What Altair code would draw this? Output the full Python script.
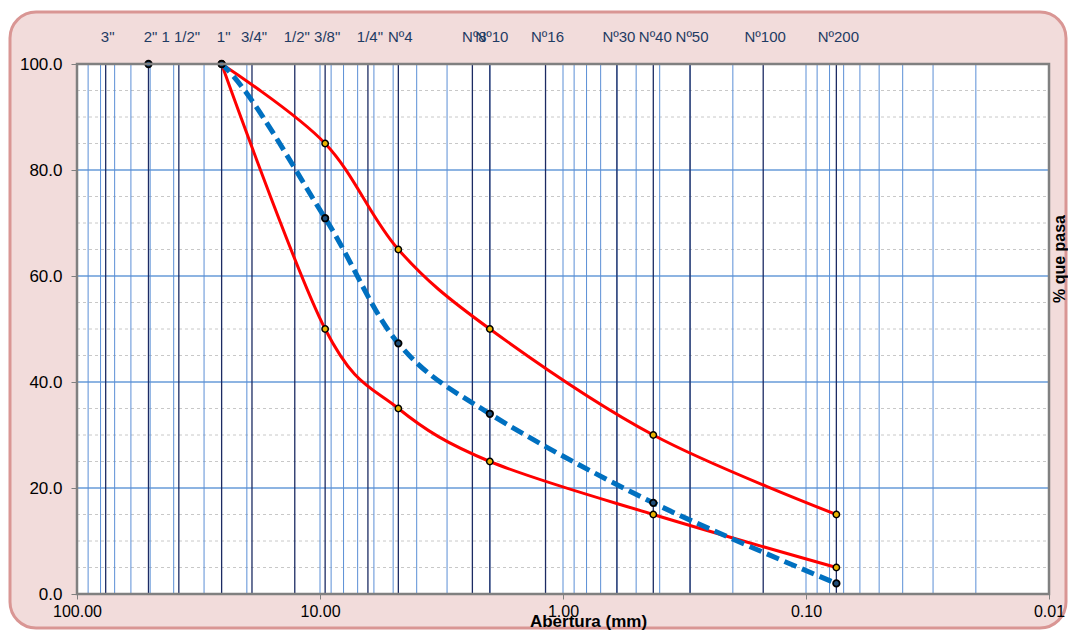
import altair as alt
import pandas as pd

# ---------------- data ----------------
sieve_names = ['3"', '2"', '1 1/2"', '1"', '3/4"', '1/2"', '3/8"', '1/4"', 'Nº4', 'Nº8',
               'Nº10', 'Nº16', 'Nº30', 'Nº40', 'Nº50', 'Nº100', 'Nº200']
sieve_mm = [76.2, 50.8, 38.1, 25.4, 19.05, 12.7, 9.525, 6.35, 4.76, 2.36,
            2.0, 1.18, 0.6, 0.425, 0.3, 0.15, 0.075]

grid_mm = [90, 80, 70, 60, 50, 40, 30, 20, 10,
           9, 8, 7, 6, 5, 4, 3, 2, 1,
           0.9, 0.8, 0.7, 0.6, 0.5, 0.4, 0.3, 0.2, 0.1,
           0.09, 0.08, 0.07, 0.06, 0.05, 0.04, 0.03, 0.02]

major_pct = [20, 40, 60, 80]
minor_pct = [5, 10, 15, 25, 30, 35, 45, 50, 55, 65, 70, 75, 85, 90, 95]

limit_mm = [25.4, 9.525, 4.76, 2.0, 0.425, 0.075]
upper_pct = [100, 85, 65, 50, 30, 15]
lower_pct = [100, 50, 35, 25, 15, 5]

sample_mm = [50.8, 25.4, 9.525, 4.76, 2.0, 0.425, 0.075]
sample_pct = [100, 100, 70.9, 47.3, 34.0, 17.2, 2.0]

x_ticks = [100, 10, 1, 0.1, 0.01]
y_ticks = [0, 20, 40, 60, 80, 100]

# ---------------- tables ----------------
W, H = 972, 530
one = pd.DataFrame({"k": [0]})
df_sieve = pd.DataFrame({"mm": sieve_mm, "name": sieve_names})
df_grid = pd.DataFrame({"mm": grid_mm})
df_major = pd.DataFrame({"pct": major_pct})
df_minor = pd.DataFrame({"pct": minor_pct})
df_limits = pd.concat([
    pd.DataFrame({"mm": limit_mm, "pct": upper_pct, "serie": "sup", "i": range(len(limit_mm))}),
    pd.DataFrame({"mm": limit_mm, "pct": lower_pct, "serie": "inf", "i": range(len(limit_mm))}),
])
df_sample = pd.DataFrame({"mm": sample_mm, "pct": sample_pct, "i": range(len(sample_mm))})

xs = alt.Scale(type="log", domain=[0.01, 100], reverse=True, nice=False)
ys = alt.Scale(domain=[0, 100], nice=False)

x_axis = alt.Axis(values=x_ticks, format=".2f", title="Abertura (mm)", grid=False, domain=False,
                  tickSize=5, tickColor="#808080", tickWidth=1, labelFontSize=16, labelPadding=4,
                  labelColor="black", labelFlush=False, labelOverlap=False,
                  titleFontSize=17, titleFontWeight="bold", titleColor="black",
                  titleX=511, titleY=32, titleBaseline="alphabetic", titleAlign="center", zindex=1)
y_axis = alt.Axis(values=y_ticks, format=".1f", title=None, grid=False, domain=False,
                  tickSize=6, tickColor="#808080", tickWidth=1, labelFontSize=17, labelPadding=9,
                  labelColor="black", labelFlush=False, labelOverlap=False, zindex=1)

X = alt.X("mm:Q", scale=xs, axis=x_axis)
Y = alt.Y("pct:Q", scale=ys, axis=y_axis)

frame = alt.Chart(one).mark_rect(fill="#f2dcdb", stroke="#d99694", strokeWidth=3, cornerRadius=26).encode(
    x=alt.value(-67), x2=alt.value(989), y=alt.value(-52), y2=alt.value(564))
plot_bg = alt.Chart(one).mark_rect(fill="white").encode(
    x=alt.value(0), x2=alt.value(W), y=alt.value(0), y2=alt.value(H))

h_minor = alt.Chart(df_minor).mark_rule(color="#c8c8c8", strokeWidth=1, strokeDash=[3, 3]).encode(
    y=Y, x=alt.value(0), x2=alt.value(W))
h_major = alt.Chart(df_major).mark_rule(color="#8db4e2", strokeWidth=2).encode(
    y=Y, x=alt.value(0), x2=alt.value(W))
v_grid = alt.Chart(df_grid).mark_rule(color="#5b8fd6", strokeWidth=1).encode(
    x=X, y=alt.value(0), y2=alt.value(H))
v_sieve = alt.Chart(df_sieve).mark_rule(color="#1c2b63", strokeWidth=1.3).encode(
    x=X, y=alt.value(0), y2=alt.value(H))

limit_lines = alt.Chart(df_limits).mark_line(color="#ff0000", strokeWidth=3, interpolate="cardinal",
                                               clip=True).encode(
    x=X, y=Y, detail="serie:N", order="i:Q")
sample_line = alt.Chart(df_sample).mark_line(color="#0070c0", strokeWidth=5, strokeDash=[13, 6],
                                              interpolate="cardinal", clip=True).encode(
    x=X, y=Y, order="i:Q")

limit_pts = alt.Chart(df_limits).mark_point(shape="circle", filled=True, fill="#e8b400", stroke="black",
                                             strokeWidth=1.5, size=40, opacity=1).encode(x=X, y=Y)
sample_pts = alt.Chart(df_sample).mark_point(shape="circle", filled=True, fill="#1f4e79", stroke="black",
                                              strokeWidth=1.8, size=42, opacity=1).encode(x=X, y=Y)

border = alt.Chart(one).mark_rect(fill="white", fillOpacity=0, stroke="#808080", strokeWidth=2.5).encode(
    x=alt.value(0), x2=alt.value(W), y=alt.value(0), y2=alt.value(H))

sieve_labels = alt.Chart(df_sieve).mark_text(fontSize=15, color="#1f3b63", baseline="middle",
                                              align="center", dx=2).encode(
    x=X, y=alt.value(-27), text="name:N")

y_title = alt.Chart(one).mark_text(text="% que pasa", fontSize=16, fontWeight="bold", angle=270,
                                   align="center", baseline="middle", color="black").encode(
    x=alt.value(983), y=alt.value(195))

chart = alt.layer(
    frame, plot_bg, h_minor, h_major, v_grid, v_sieve,
    limit_lines, sample_line, limit_pts, sample_pts, border, sieve_labels, y_title
).properties(
    width=W, height=H,
    padding={"left": 69, "top": 56, "right": 19, "bottom": 36},
    autosize=alt.AutoSizeParams(type="none"),
    background="white",
).configure(font="Liberation Sans").configure_view(strokeWidth=0)

chart.save("out.html", embed_options={"renderer": "svg", "actions": False})
